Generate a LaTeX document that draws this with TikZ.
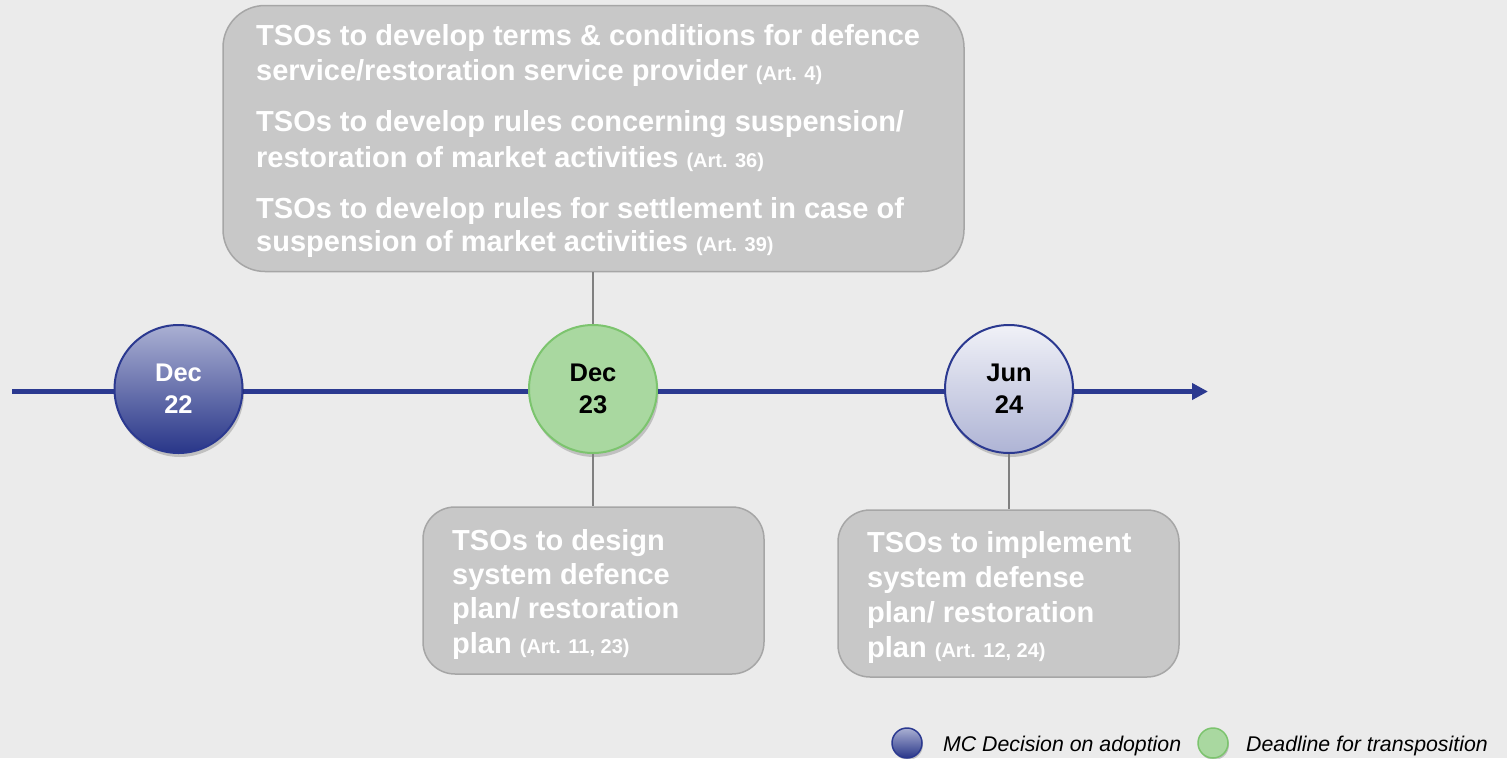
\documentclass[tikz,border=0pt]{standalone}
\usepackage{fontspec}
\setmainfont{Liberation Sans}
\usetikzlibrary{arrows.meta,shadows}
\definecolor{bgcol}{HTML}{EBEBEB}
\definecolor{navy}{HTML}{2B3990}
\definecolor{boxfill}{HTML}{C8C8C8}
\definecolor{boxline}{HTML}{A6A6A6}
\definecolor{conn}{HTML}{808080}
\definecolor{greenfill}{HTML}{A9D8A0}
\definecolor{greenline}{HTML}{7CC46E}
\newcommand\mybig{\fontsize{29}{34.5}\selectfont\bfseries}
\newcommand\myart[1]{{\fontsize{20}{24}\selectfont #1}}
\newcommand\mydate{\fontsize{25.5}{32}\selectfont\bfseries}
\tikzset{
  bigbox/.style={draw=boxline, fill=boxfill, line width=1.5pt, inner sep=0pt},
  line/.style={anchor=base west, inner sep=0pt, text=white, font=\mybig},
  datecirc/.style={circle, minimum size=128pt, inner sep=0pt, line width=2pt, align=center, font=\mydate,
     drop shadow={shadow xshift=1.5pt, shadow yshift=-4pt, opacity=0.18, fill=black}},
  legcirc/.style={circle, minimum size=30pt, inner sep=0pt, line width=1.5pt,
     drop shadow={shadow xshift=1pt, shadow yshift=-2pt, opacity=0.18, fill=black}},
  legtext/.style={anchor=base west, inner sep=0pt, font=\fontsize{21.3}{25}\selectfont\itshape},
  connector/.style={draw=conn, line width=1.5pt},
}
\begin{document}
\begin{tikzpicture}[x=1pt,y=-1pt]
\fill[bgcol] (0,0) rectangle (1507,758);
\useasboundingbox (0,0) rectangle (1507,758);

% timeline
\coordinate (tstart) at (12,391.5);
\coordinate (tend) at (1208,391.5);
\draw[navy, line width=5pt, -{Triangle[length=16pt,width=16pt]}] (tstart) -- (tend);

% boxes
\node[bigbox, minimum width=741pt, minimum height=266pt, rounded corners=42pt] (top) at (593.5,138.5) {};
\node[bigbox, minimum width=341pt, minimum height=167pt, rounded corners=32pt] (b1) at (593.5,590.5) {};
\node[bigbox, minimum width=341pt, minimum height=167pt, rounded corners=32pt] (b2) at (1008.5,593.5) {};

% circles
\node[datecirc, draw=navy, top color=navy!40!white, bottom color=navy!95!black, text=white] (dec22) at (178.5,389) {Dec\\22};
\node[datecirc, draw=greenline, fill=greenfill, text=black] (dec23) at (593,389) {Dec\\23};
\node[datecirc, draw=navy, top color=navy!7!white, bottom color=navy!38!white, text=black] (jun24) at (1009,389) {Jun\\24};

% connectors
\draw[connector] (top.south -| dec23.north) -- (dec23.north);
\draw[connector] (dec23.south) -- (dec23.south |- b1.north);
\draw[connector] (jun24.south) -- (jun24.south |- b2.north);

% top box text
\node[line] (l1) at (256,45) {TSOs to develop terms \& conditions for defence};
\node[line] (l2) at (256,80) {service/restoration service provider \myart{(Art. 4)}};
\node[line] (l3) at (256,131) {TSOs to develop rules concerning suspension/};
\node[line] (l4) at (256,167) {restoration of market activities \myart{(Art. 36)}};
\node[line] (l5) at (256,218) {TSOs to develop rules for settlement in case of};
\node[line] (l6) at (256,251) {suspension of market activities \myart{(Art. 39)}};

% bottom box 1 text
\node[line] (m1) at (452,550) {TSOs to design};
\node[line] (m2) at (452,584) {system defence};
\node[line] (m3) at (452,618) {plan/ restoration};
\node[line] (m4) at (452,653) {plan \myart{(Art. 11, 23)}};

% bottom box 2 text
\node[line] (n1) at (867,552) {TSOs to implement};
\node[line] (n2) at (867,587) {system defense};
\node[line] (n3) at (867,622) {plan/ restoration};
\node[line] (n4) at (867,657) {plan \myart{(Art. 12, 24)}};

% legend
\node[legcirc, draw=navy, top color=navy!40!white, bottom color=navy!95!black] (lg1) at (907,743) {};
\node[legtext] (lt1) at (943,751) {MC Decision on adoption};
\node[legcirc, draw=greenline, fill=greenfill] (lg2) at (1213,743) {};
\node[legtext] (lt2) at (1246,751) {Deadline for transposition};
\end{tikzpicture}
\end{document}
